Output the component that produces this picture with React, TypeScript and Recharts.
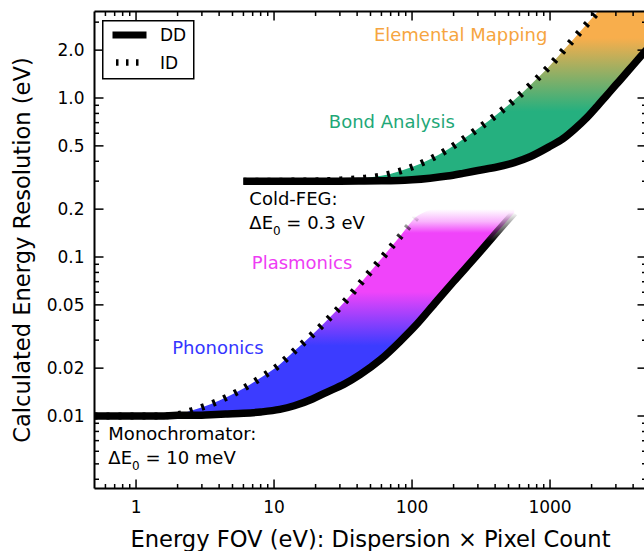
import React from 'react'
import { ComposedChart, Area, Line, XAxis, YAxis, Legend, ReferenceDot } from 'recharts'

const FONT = '"DejaVu Sans", sans-serif'

// monochromator curves (energy FOV in eV, resolution in eV)
const monoX = [0.5, 1, 1.5, 2, 2.6, 3.5, 4.6, 6, 8, 11, 14, 19, 24, 32, 42, 59, 82, 109, 150, 200, 300, 400, 550]
const monoDD = [0.01, 0.01, 0.01, 0.0101, 0.0101, 0.0102, 0.0103, 0.0104, 0.0106, 0.011, 0.0116, 0.0128, 0.0141, 0.0158, 0.0182, 0.0226, 0.0295, 0.038, 0.0525, 0.07, 0.104, 0.139, 0.19]
const monoID = [0.01, 0.01, 0.01, 0.0102, 0.0109, 0.0119, 0.0132, 0.0149, 0.0174, 0.0211, 0.0256, 0.0326, 0.0397, 0.0515, 0.068, 0.096, 0.135, 0.181, null, null, null, null, null]
const MONO_TOP = 0.2

// cold-FEG curves
const coldX = [6, 10, 20, 30, 45, 60, 80, 100, 135, 180, 234, 300, 413, 550, 716, 1000, 1242, 1500, 1855, 2190, 2588, 3000, 3380, 4000, 5000]
const coldDD = [0.3, 0.3, 0.3, 0.3, 0.301, 0.302, 0.303, 0.306, 0.313, 0.323, 0.336, 0.35, 0.368, 0.392, 0.427, 0.497, 0.555, 0.635, 0.755, 0.885, 1.045, 1.21, 1.36, 1.61, 2.01]
const coldID = [0.3, 0.3, 0.301, 0.305, 0.313, 0.324, 0.345, 0.368, 0.412, 0.472, 0.55, 0.64, 0.79, 0.97, 1.2, 1.6, 1.98, 2.38, 2.93, 3.45, 4.07, 4.7, 5.3, 6.3, 7.85]
const COLD_TOP = 4

// axes
const xMajor = [1, 10, 100, 1000]
const xLabels = ['1', '10', '100', '1000']
const xMinor = [0.6, 0.7, 0.8, 0.9, 2, 3, 4, 5, 6, 7, 8, 9, 20, 30, 40, 50, 60, 70, 80, 90, 200, 300, 400, 500, 600, 700, 800, 900, 2000, 3000, 4000]
const yMajor = [0.01, 0.02, 0.05, 0.1, 0.2, 0.5, 1, 2]
const yLabels = ['0.01', '0.02', '0.05', '0.1', '0.2', '0.5', '1.0', '2.0']
const yMinor = [0.004, 0.005, 0.006, 0.007, 0.008, 0.009, 0.03, 0.04, 0.06, 0.07, 0.08, 0.09, 0.3, 0.4, 0.6, 0.7, 0.8, 0.9, 3]
const xTicks = [...xMinor, ...xMajor].sort((a, b) => a - b)
const yTicks = [...yMinor, ...yMajor].sort((a, b) => a - b)

const monoRows = monoX.map((x, i) => ({
  x,
  dd: monoDD[i],
  id: monoID[i],
  band: [monoDD[i], Math.min(monoID[i] ?? MONO_TOP, MONO_TOP)],
}))
const coldRows = coldX.map((x, i) => ({
  x,
  dd: coldDD[i],
  id: coldID[i],
  band: [coldDD[i], Math.min(coldID[i], COLD_TOP)],
}))

type Side = 'bottom' | 'top' | 'left' | 'right'

// inward ticks, labels outside
const makeTick = (side: Side, majors: number[], labels?: string[]) => (props: any) => {
  const { x, y, payload } = props
  const i = majors.indexOf(payload.value)
  const len = i >= 0 ? 9 : 4.5
  let x2 = x
  let y2 = y
  if (side === 'bottom') y2 = y - len
  if (side === 'top') y2 = y + len
  if (side === 'left') x2 = x + len
  if (side === 'right') x2 = x - len
  return (
    <g>
      <line x1={x} y1={y} x2={x2} y2={y2} stroke="#000" strokeWidth={1.5} />
      {i >= 0 && labels && side === 'bottom' && (
        <text x={x} y={y + 24.5} textAnchor="middle" fontSize={17} fontFamily={FONT} fill="#000">
          {labels[i]}
        </text>
      )}
      {i >= 0 && labels && side === 'left' && (
        <text x={x - 10} y={y} dy="0.36em" textAnchor="end" fontSize={17} fontFamily={FONT} fill="#000">
          {labels[i]}
        </text>
      )}
    </g>
  )
}

const LegendBox = (props: any) => {
  const items = (props.payload || []).filter((p: any) => p.value === 'DD' || p.value === 'ID')
  return (
    <svg width={93} height={60} style={{ display: 'block' }}>
      <rect x={0.75} y={0.75} width={91} height={58} fill="#fff" stroke="#000" strokeWidth={1.5} />
      {items.map((p: any, i: number) => {
        const cy = 15 + i * 27.5
        const dashed = p.value === 'ID'
        return (
          <g key={p.value}>
            <line
              x1={dashed ? 14 : 10.5}
              x2={dashed ? 37 : 44.5}
              y1={cy}
              y2={cy}
              stroke="#000"
              strokeWidth={dashed ? 6.5 : 7}
              strokeDasharray={dashed ? '2.5 7.5' : undefined}
            />
            <text x={58} y={cy} dy="0.36em" fontSize={17} fontFamily={FONT} fill="#000">
              {p.value}
            </text>
          </g>
        )
      })}
    </svg>
  )
}

const Note = (text: string, color: string) => (p: any) => (
  <text x={p.cx} y={p.cy} textAnchor="middle" fontSize={18} fontFamily={FONT} fill={color}>
    {text}
  </text>
)

const Source = (name: string, value: string) => (p: any) => (
  <text x={p.cx} y={p.cy} fontSize={18} fontFamily={FONT} fill="#000">
    <tspan x={p.cx}>{name}</tspan>
    <tspan x={p.cx} dy={24}>ΔE</tspan>
    <tspan dy={6} fontSize={12}>0</tspan>
    <tspan dy={-6}>{` = ${value}`}</tspan>
  </text>
)

const XTitle = (props: any) => {
  const { x, y, width } = props.viewBox
  return (
    <text x={x + width / 2} y={y + 58} textAnchor="middle" fontSize={22.6} fontFamily={FONT} fill="#000">
      Energy FOV (eV): Dispersion {'\u00d7'} Pixel Count
    </text>
  )
}

const YTitle = (props: any) => {
  const { x, y, width, height } = props.viewBox
  const cx = x + width - 65
  const cy = y + height / 2
  return (
    <text x={cx} y={cy} transform={`rotate(-90, ${cx}, ${cy})`} textAnchor="middle" fontSize={22.6} fontFamily={FONT} fill="#000">
      Calculated Energy Resolution (eV)
    </text>
  )
}

const axisLine = { stroke: '#000', strokeWidth: 2 }

export default function App() {
  return (
    <div style={{ position: 'absolute', left: 0, top: 0, width: 644, height: 551, overflow: 'hidden', background: '#fff', fontFamily: FONT }}>
      <ComposedChart width={650} height={551} margin={{ top: 10.5, right: 2.5, bottom: 61.5, left: 93.5 }}>
        <defs>
          <linearGradient id="monoFill" x1="0" y1="0" x2="0" y2="1">
            <stop offset="0" stopColor="#f044fa" stopOpacity={0} />
            <stop offset="0.06" stopColor="#f044fa" stopOpacity={0.4} />
            <stop offset="0.115" stopColor="#f044fa" stopOpacity={1} />
            <stop offset="0.4" stopColor="#f044fa" />
            <stop offset="0.66" stopColor="#3c3cff" />
            <stop offset="1" stopColor="#3c3cff" />
          </linearGradient>
          <linearGradient id="coldFill" x1="0" y1="0" x2="0" y2="1">
            <stop offset="0" stopColor="#f8ae4c" />
            <stop offset="0.2" stopColor="#f8ae4c" />
            <stop offset="0.61" stopColor="#25b07f" />
            <stop offset="1" stopColor="#25b07f" />
          </linearGradient>
          <linearGradient id="monoDDFade" x1="0" y1="0" x2="0" y2="1">
            <stop offset="0" stopColor="#000" stopOpacity={0} />
            <stop offset="0.14" stopColor="#000" stopOpacity={1} />
            <stop offset="1" stopColor="#000" stopOpacity={1} />
          </linearGradient>
          <linearGradient id="monoIDFade" x1="0" y1="0" x2="0" y2="1">
            <stop offset="0" stopColor="#000" stopOpacity={0} />
            <stop offset="0.12" stopColor="#000" stopOpacity={1} />
            <stop offset="1" stopColor="#000" stopOpacity={1} />
          </linearGradient>
        </defs>

        <XAxis
          dataKey="x"
          type="number"
          scale="log"
          domain={[0.5, 5000]}
          allowDataOverflow
          ticks={xTicks}
          interval={0}
          height={1}
          tickSize={0}
          tickMargin={0}
          tickLine={false}
          axisLine={axisLine}
          tick={makeTick('bottom', xMajor, xLabels)}
          label={{ content: XTitle }}
        />
        <XAxis
          xAxisId="top"
          orientation="top"
          dataKey="x"
          type="number"
          scale="log"
          domain={[0.5, 5000]}
          allowDataOverflow
          ticks={xTicks}
          interval={0}
          height={1}
          tickSize={0}
          tickMargin={0}
          tickLine={false}
          axisLine={axisLine}
          tick={makeTick('top', xMajor)}
        />
        <YAxis
          type="number"
          scale="log"
          domain={[0.0035, 3.5]}
          allowDataOverflow
          ticks={yTicks}
          interval={0}
          width={1}
          tickSize={0}
          tickMargin={0}
          tickLine={false}
          axisLine={axisLine}
          tick={makeTick('left', yMajor, yLabels)}
          label={{ content: YTitle }}
        />
        <YAxis
          yAxisId="right"
          orientation="right"
          type="number"
          scale="log"
          domain={[0.0035, 3.5]}
          allowDataOverflow
          ticks={yTicks}
          interval={0}
          width={1}
          tickSize={0}
          tickMargin={0}
          tickLine={false}
          axisLine={axisLine}
          tick={makeTick('right', yMajor)}
        />

        <Area data={monoRows} dataKey="band" type="monotone" stroke="none" fill="url(#monoFill)" fillOpacity={1} legendType="none" isAnimationActive={false} />
        <Area data={coldRows} dataKey="band" type="monotone" stroke="none" fill="url(#coldFill)" fillOpacity={1} legendType="none" isAnimationActive={false} />

        <Line data={monoRows} dataKey="dd" name="DD" type="monotone" stroke="url(#monoDDFade)" strokeWidth={7.5} dot={false} activeDot={false} isAnimationActive={false} />
        <Line data={coldRows} dataKey="dd" name="DD cold" type="monotone" stroke="#000" strokeWidth={7.5} dot={false} activeDot={false} legendType="none" isAnimationActive={false} />
        <Line data={monoRows} dataKey="id" name="ID" type="monotone" stroke="url(#monoIDFade)" strokeWidth={7} strokeDasharray="3 9" dot={false} activeDot={false} isAnimationActive={false} />
        <Line data={coldRows} dataKey="id" name="ID cold" type="monotone" stroke="#000" strokeWidth={7} strokeDasharray="3 9" dot={false} activeDot={false} legendType="none" isAnimationActive={false} />

        <ReferenceDot x={225} y={2.28} r={0} shape={Note('Elemental Mapping', '#f6a540')} />
        <ReferenceDot x={71.4} y={0.65} r={0} shape={Note('Bond Analysis', '#1fa878')} />
        <ReferenceDot x={15.96} y={0.0838} r={0} shape={Note('Plasmonics', '#ee3cf4')} />
        <ReferenceDot x={3.92} y={0.0246} r={0} shape={Note('Phononics', '#3535ff')} />
        <ReferenceDot x={6.62} y={0.213} r={0} shape={Source('Cold-FEG:', '0.3 eV')} />
        <ReferenceDot x={0.63} y={0.0071} r={0} shape={Source('Monochromator:', '10 meV')} />

        <Legend
          layout="vertical"
          align="center"
          verticalAlign="middle"
          content={LegendBox}
          wrapperStyle={{ left: 101.5, top: 19.5, width: 93, height: 60 }}
        />
      </ComposedChart>
    </div>
  )
}
